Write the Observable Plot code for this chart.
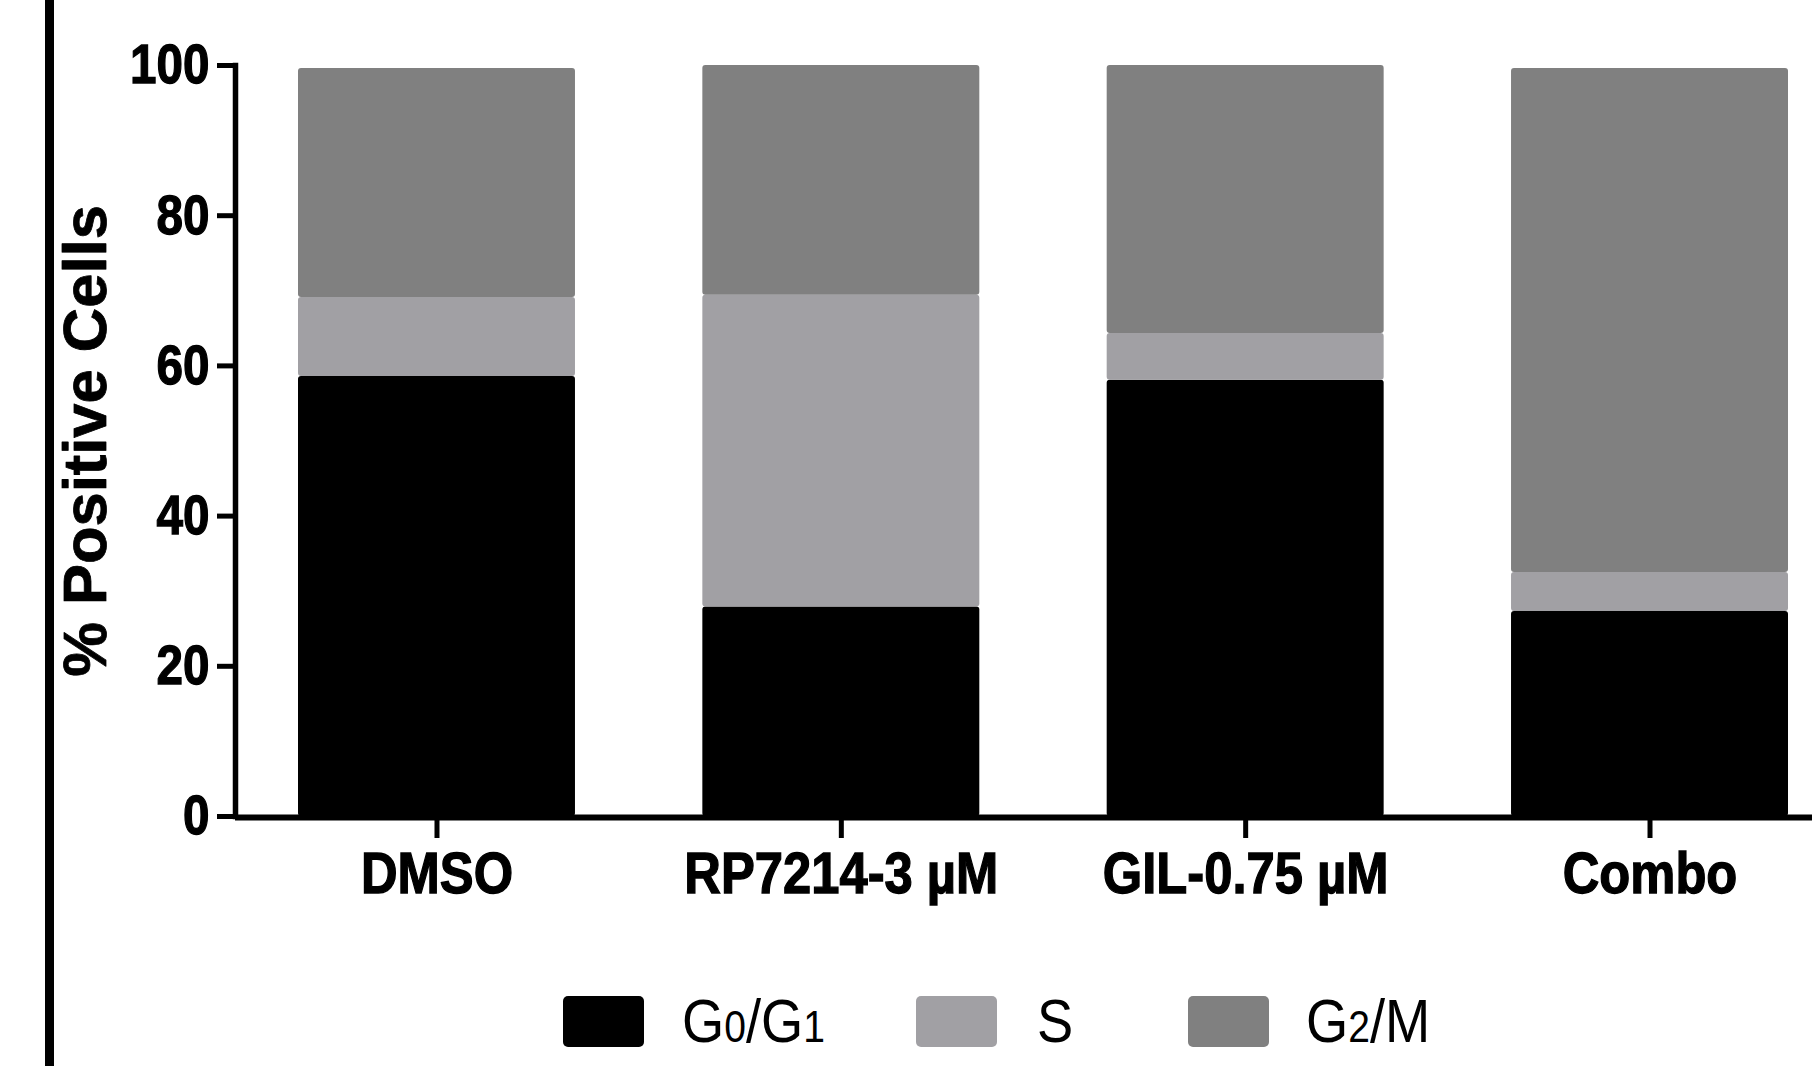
<!DOCTYPE html>
<html>
<head>
<meta charset="utf-8">
<script src="https://cdn.jsdelivr.net/npm/d3@7"></script>
<script src="https://cdn.jsdelivr.net/npm/@observablehq/plot@0.6"></script>
<style>
  body { margin: 0; background: #fff; width: 1812px; height: 1066px; overflow: hidden; position: relative;
         font-family: "Liberation Sans", Arial, sans-serif; }
  #leftbar { position: absolute; left: 45px; top: 0; width: 9px; height: 1066px; background: #000; }
  #chart { position: absolute; left: 0; top: 0; }
  #legend { position: absolute; left: 0; top: 960px; width: 1812px; height: 106px; }
  .sw { position: absolute; top: 36px; width: 81px; height: 51px; border-radius: 5px; }
  .lb { position: absolute; top: 31px; font-size: 61px; line-height: 1; white-space: nowrap;
        transform: scaleX(0.89); transform-origin: left top; color: #000; }
  .lb .sub { font-size: 0.72em; }
</style>
</head>
<body>
<div id="chart"></div>
<div id="leftbar"></div>
<div id="legend"></div>
<script>
// ---- data ----
const categories = ["DMSO", "RP7214-3 µM", "GIL-0.75 µM", "Combo"];
const phases = ["G0/G1", "S", "G2/M"];
const g0g1 = [58.6, 27.9, 58.1, 27.3];
const sPhase = [10.5, 41.5, 6.2, 5.2];
const g2m = [30.5, 30.6, 35.7, 67.1];
const yTicks = [0, 20, 40, 60, 80, 100];
const colors = ["#000000", "#a1a0a4", "#808080"];
const yLabel = "% Positive Cells";

const series = [g0g1, sPhase, g2m];
const rows = [];
categories.forEach((c, i) => {
  phases.forEach((p, j) => rows.push({cat: c, phase: p, value: series[j][i]}));
});

const W = 1812, H = 960, mL = 235, mT = 65, y0 = 816;

const chart = Plot.plot({
  width: W, height: H,
  marginLeft: mL, marginRight: 0, marginTop: mT, marginBottom: H - y0,
  style: {fontFamily: "'Liberation Sans', Arial, sans-serif", background: "#fff", overflow: "visible", color: "#000"},
  x: {domain: categories, range: [298, 1788], paddingInner: 0.315, paddingOuter: 0, round: false},
  y: {domain: [0, 100], range: [y0, mT]},
  color: {domain: phases, range: colors},
  marks: [
    Plot.barY(rows, {x: "cat", y: "value", fill: "phase", rx: 3}),
    Plot.frame({anchor: "left", stroke: "#000", strokeWidth: 5.5}),
    Plot.ruleY([0], {stroke: "#000", strokeWidth: 6, dy: 1}),
    Plot.axisY({ticks: yTicks, tickSize: 18, tickPadding: 8, strokeWidth: 5, fontSize: 56,
                fontWeight: "bold", label: null, tickFormat: d => String(d)}),
    Plot.axisX({tickSize: 22, tickPadding: 14, strokeWidth: 5, fontSize: 57, fontWeight: "bold", label: null}),
    Plot.text([yLabel], {frameAnchor: "left", dx: -149, rotate: -90, fontSize: 61.5, fontWeight: "bold",
                         lineAnchor: "middle", textAnchor: "middle", fill: "#000",
                         stroke: "#000", strokeWidth: 0.8})
  ]
});
document.getElementById("chart").appendChild(chart);

// condense and embolden tick labels (narrow heavy face in the original)
function condense(sel, f) {
  chart.querySelectorAll(sel).forEach(t => {
    const w = t.getComputedTextLength();
    t.setAttribute("textLength", (w * f).toFixed(1));
    t.setAttribute("lengthAdjust", "spacingAndGlyphs");
    t.setAttribute("stroke", "#000");
    t.setAttribute("stroke-width", "1.3");
  });
}
condense('g[aria-label="y-axis tick label"] text', 0.85);
condense('g[aria-label="x-axis tick label"] text', 0.89);

// ---- legend ----
const swLeft = [563, 916, 1188];
const lbLeft = [682, 1037, 1306];
const legend = document.getElementById("legend");
phases.forEach((p, i) => {
  const sw = document.createElement("div");
  sw.className = "sw";
  sw.style.left = swLeft[i] + "px";
  sw.style.background = colors[i];
  legend.appendChild(sw);
  const lb = document.createElement("div");
  lb.className = "lb";
  lb.style.left = lbLeft[i] + "px";
  lb.innerHTML = p.replace(/(\d)/g, '<span class="sub">$1</span>');
  legend.appendChild(lb);
});
</script>
</body>
</html>
